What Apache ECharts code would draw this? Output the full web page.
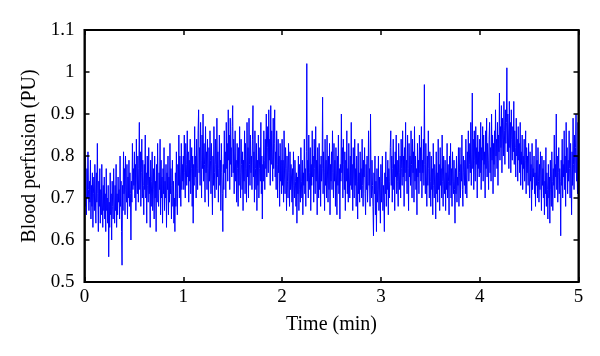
<!DOCTYPE html>
<html>
<head>
<meta charset="utf-8">
<script src="https://cdn.jsdelivr.net/npm/echarts@6/dist/echarts.min.js"></script>
<style>
html,body{margin:0;padding:0;background:#fff}
#wrap{position:relative;width:600px;height:356px}
#c,#f{position:absolute;left:0;top:0;width:600px;height:356px}
#f{pointer-events:none}
</style>
</head>
<body>
<div id="wrap"><div id="c"></div><div id="f"></div></div>
<script>
// Sample step (min) and perfusion values, one array per half minute
var step = 0.005;
var segA = [0.75,0.68,0.80,0.71,0.66,0.77,0.70,0.81,0.72,0.67,
0.74,0.69,0.79,0.65,0.73,0.68,0.76,0.63,0.71,0.75,
0.67,0.78,0.70,0.64,0.76,0.69,0.83,0.71,0.62,0.74,
0.68,0.77,0.64,0.72,0.66,0.78,0.70,0.63,0.73,0.67,
0.75,0.65,0.71,0.62,0.77,0.67,0.70,0.64,0.73,0.56,
0.69,0.63,0.76,0.66,0.71,0.60,0.74,0.68,0.65,0.77,
0.70,0.64,0.73,0.67,0.78,0.63,0.71,0.66,0.75,0.69,
0.72,0.65,0.80,0.68,0.74,0.62,0.54,0.73,0.67,0.81,
0.71,0.77,0.66,0.80,0.72,0.69,0.78,0.65,0.75,0.70,
0.79,0.68,0.76,0.71,0.60,0.74,0.69,0.83,0.72,0.77];
var segB = [0.73,0.81,0.70,0.78,0.67,0.84,0.75,0.71,0.80,0.69,
0.77,0.88,0.72,0.81,0.68,0.76,0.84,0.70,0.79,0.73,
0.66,0.78,0.72,0.85,0.70,0.76,0.64,0.80,0.73,0.69,
0.82,0.71,0.75,0.63,0.79,0.68,0.74,0.81,0.67,0.72,
0.77,0.65,0.80,0.70,0.74,0.62,0.78,0.69,0.83,0.71,
0.68,0.76,0.72,0.84,0.66,0.79,0.70,0.75,0.64,0.77,
0.71,0.82,0.67,0.74,0.70,0.78,0.63,0.76,0.72,0.80,
0.66,0.75,0.69,0.83,0.71,0.77,0.65,0.73,0.79,0.68,
0.74,0.64,0.70,0.62,0.76,0.68,0.81,0.71,0.66,0.78,
0.73,0.85,0.70,0.80,0.75,0.68,0.83,0.72,0.78,0.74];
var segC = [0.80,0.72,0.85,0.76,0.70,0.83,0.78,0.73,0.86,0.75,
0.81,0.69,0.79,0.74,0.84,0.71,0.77,0.82,0.68,0.80,
0.64,0.78,0.73,0.87,0.75,0.80,0.70,0.84,0.77,0.72,
0.86,0.91,0.76,0.82,0.73,0.88,0.79,0.70,0.85,0.77,
0.90,0.74,0.83,0.78,0.69,0.87,0.76,0.81,0.72,0.84,
0.77,0.68,0.82,0.74,0.86,0.79,0.71,0.83,0.75,0.66,
0.80,0.73,0.87,0.76,0.70,0.84,0.78,0.72,0.89,0.75,
0.81,0.69,0.77,0.85,0.73,0.79,0.67,0.83,0.76,0.71,
0.62,0.78,0.72,0.86,0.76,0.81,0.70,0.88,0.77,0.83,
0.74,0.91,0.79,0.85,0.72,0.89,0.78,0.82,0.75,0.87];
var segD = [0.92,0.76,0.84,0.71,0.80,0.86,0.74,0.79,0.69,0.83,
0.77,0.68,0.82,0.73,0.87,0.76,0.70,0.84,0.78,0.72,
0.81,0.67,0.79,0.74,0.86,0.71,0.83,0.77,0.69,0.88,
0.75,0.82,0.70,0.89,0.78,0.73,0.85,0.76,0.80,0.72,
0.84,0.92,0.75,0.81,0.69,0.86,0.77,0.72,0.83,0.67,
0.79,0.73,0.85,0.70,0.77,0.82,0.74,0.88,0.71,0.80,
0.65,0.78,0.74,0.86,0.79,0.72,0.84,0.77,0.90,0.75,
0.82,0.87,0.76,0.91,0.79,0.84,0.73,0.92,0.78,0.86,
0.80,0.74,0.89,0.77,0.83,0.91,0.75,0.81,0.72,0.86,
0.78,0.70,0.84,0.76,0.80,0.68,0.83,0.74,0.79,0.71];
var segE = [0.84,0.73,0.79,0.69,0.86,0.75,0.71,0.82,0.77,0.67,
0.80,0.74,0.70,0.83,0.76,0.68,0.81,0.72,0.78,0.75,
0.69,0.77,0.66,0.81,0.73,0.70,0.79,0.74,0.68,0.76,
0.64,0.75,0.71,0.80,0.67,0.78,0.72,0.69,0.82,0.74,
0.70,0.79,0.66,0.76,0.73,0.84,0.71,0.77,0.68,0.81,
1.02,0.74,0.79,0.70,0.85,0.76,0.72,0.82,0.67,0.78,
0.73,0.86,0.75,0.80,0.69,0.84,0.77,0.71,0.87,0.74,
0.79,0.66,0.82,0.75,0.70,0.83,0.72,0.78,0.68,0.80,
0.74,0.77,0.94,0.71,0.81,0.76,0.67,0.84,0.73,0.79,
0.70,0.85,0.75,0.69,0.80,0.72,0.83,0.66,0.78,0.74];
var segF = [0.81,0.72,0.86,0.76,0.70,0.83,0.74,0.79,0.68,0.82,
0.75,0.66,0.80,0.73,0.85,0.71,0.77,0.65,0.78,0.74,
0.90,0.76,0.82,0.70,0.84,0.78,0.72,0.81,0.67,0.79,
0.74,0.86,0.71,0.77,0.69,0.83,0.75,0.70,0.80,0.73,
0.88,0.72,0.78,0.67,0.82,0.75,0.70,0.84,0.73,0.77,
0.68,0.80,0.74,0.65,0.83,0.71,0.76,0.69,0.81,0.72,
0.77,0.70,0.84,0.73,0.68,0.79,0.75,0.82,0.71,0.66,
0.78,0.72,0.80,0.69,0.74,0.86,0.73,0.77,0.68,0.90,
0.75,0.70,0.79,0.73,0.68,0.61,0.76,0.71,0.80,0.66,
0.74,0.62,0.77,0.69,0.72,0.80,0.67,0.75,0.70,0.64];
var segG = [0.78,0.69,0.74,0.80,0.67,0.73,0.70,0.62,0.76,0.71,
0.81,0.68,0.75,0.72,0.79,0.66,0.77,0.70,0.74,0.82,
0.86,0.73,0.80,0.69,0.77,0.84,0.72,0.78,0.67,0.81,
0.75,0.85,0.71,0.79,0.74,0.68,0.83,0.76,0.72,0.80,
0.70,0.84,0.77,0.73,0.86,0.75,0.80,0.68,0.82,0.76,
0.88,0.74,0.79,0.71,0.85,0.77,0.67,0.83,0.75,0.80,
0.73,0.86,0.78,0.70,0.84,0.76,0.81,0.69,0.87,0.74,
0.80,0.72,0.77,0.66,0.83,0.75,0.79,0.71,0.85,0.76,
0.82,0.74,0.87,0.70,0.79,0.76,0.84,0.73,0.97,0.78,
0.71,0.83,0.75,0.68,0.80,0.73,0.86,0.77,0.70,0.81];
var segH = [0.74,0.68,0.80,0.72,0.77,0.66,0.83,0.73,0.70,0.78,
0.75,0.65,0.81,0.71,0.76,0.69,0.84,0.72,0.78,0.67,
0.82,0.73,0.77,0.70,0.85,0.74,0.68,0.80,0.75,0.71,
0.79,0.67,0.76,0.72,0.83,0.70,0.78,0.74,0.66,0.80,
0.73,0.83,0.70,0.77,0.68,0.81,0.74,0.71,0.79,0.72,
0.64,0.77,0.71,0.80,0.69,0.75,0.73,0.82,0.68,0.76,
0.82,0.70,0.78,0.74,0.85,0.72,0.68,0.80,0.76,0.73,
0.79,0.71,0.84,0.75,0.70,0.81,0.77,0.86,0.74,0.78,
0.83,0.76,0.88,0.73,0.80,0.95,0.77,0.84,0.72,0.86,
0.79,0.74,0.87,0.78,0.82,0.70,0.85,0.77,0.81,0.75];
var segI = [0.84,0.76,0.88,0.72,0.82,0.79,0.87,0.74,0.85,0.78,
0.81,0.70,0.86,0.77,0.89,0.75,0.83,0.79,0.72,0.84,
0.88,0.76,0.82,0.74,0.90,0.79,0.85,0.71,0.83,0.78,
0.86,0.75,0.91,0.80,0.84,0.77,0.88,0.73,0.85,0.81,
0.95,0.79,0.87,0.82,0.92,0.76,0.89,0.84,0.80,0.93,
0.86,0.78,0.91,0.83,0.88,1.01,0.81,0.90,0.85,0.77,
0.93,0.82,0.88,0.76,0.91,0.84,0.79,0.87,0.81,0.93,
0.78,0.86,0.82,0.75,0.89,0.80,0.84,0.74,0.87,0.79,
0.83,0.76,0.88,0.73,0.81,0.78,0.85,0.72,0.80,0.77,
0.84,0.74,0.79,0.86,0.71,0.82,0.76,0.80,0.73,0.83];
var segJ = [0.76,0.70,0.81,0.74,0.78,0.67,0.83,0.72,0.77,0.75,
0.80,0.71,0.76,0.68,0.84,0.73,0.79,0.70,0.82,0.74,
0.69,0.78,0.72,0.81,0.75,0.67,0.80,0.73,0.77,0.70,
0.79,0.66,0.74,0.71,0.82,0.68,0.76,0.72,0.65,0.78,
0.70,0.75,0.64,0.79,0.72,0.68,0.81,0.74,0.67,0.77,
0.73,0.85,0.70,0.78,0.75,0.90,0.72,0.80,0.69,0.76,
0.82,0.71,0.77,0.74,0.61,0.79,0.73,0.84,0.70,0.78,
0.75,0.86,0.72,0.80,0.68,0.88,0.76,0.82,0.71,0.79,
0.74,0.86,0.77,0.70,0.83,0.75,0.66,0.81,0.73,0.89,
0.78,0.72,0.85,0.76,0.82,0.90,0.74,0.80,0.71,0.88,
0.78];
var xTicks = [0,1,2,3,4,5];
var yTicks = [0.5,0.6,0.7,0.8,0.9,1,1.1];

var values = [].concat(segA, segB, segC, segD, segE, segF, segG, segH, segI, segJ);
var data = values.map(function(v, i){ return [Math.round(i*step*10000)/10000, v]; });

var font = 'Liberation Serif, Times New Roman, serif';
var xMin = xTicks[0], xMax = xTicks[xTicks.length-1];
var yMin = yTicks[0], yMax = yTicks[yTicks.length-1];
var gridBox = {left:84.5, right:21.5, top:30, bottom:74};

// Main chart: labels, axis titles and the perfusion trace
try {
  var chart = echarts.init(document.getElementById('c'));
  chart.setOption({
    animation:false,
    grid:[{left:gridBox.left, right:gridBox.right, top:gridBox.top, bottom:gridBox.bottom}],
    xAxis:[{
      type:'value', min:xMin, max:xMax, interval:1,
      name:'Time (min)', nameLocation:'middle', nameGap:33,
      nameTextStyle:{fontFamily:font, fontSize:20, color:'#000'},
      axisLine:{show:true, onZero:false, lineStyle:{color:'#000', width:1}},
      axisTick:{show:false}, splitLine:{show:false},
      axisLabel:{fontFamily:font, fontSize:19, color:'#000', margin:6}
    }],
    yAxis:[{
      type:'value', min:yMin, max:yMax, interval:0.1,
      name:'Blood perfusion (PU)', nameLocation:'middle', nameGap:35, nameRotate:90,
      nameTextStyle:{fontFamily:font, fontSize:20, color:'#000'},
      axisLine:{show:true, onZero:false, lineStyle:{color:'#000', width:1}},
      axisTick:{show:false}, splitLine:{show:false},
      axisLabel:{fontFamily:font, fontSize:19, color:'#000', margin:10,
        formatter:function(v){ return String(Math.round(v*10)/10); }}
    }],
    series:[{
      type:'line', data:data, xAxisIndex:0, yAxisIndex:0,
      showSymbol:false, symbol:'none', smooth:false,
      lineStyle:{color:'#0000ff', width:1}
    }]
  });
} catch (e) {}

// Overlay chart: closed box with inward ticks on all four sides (slightly heavier strokes)
try {
  var frame = echarts.init(document.getElementById('f'));
  function fTick(){ return {show:true, inside:true, length:5, lineStyle:{color:'#000', width:1.5}}; }
  function fLine(){ return {show:true, onZero:false, lineStyle:{color:'#000', width:1.5}}; }
  frame.setOption({
    animation:false,
    grid:[{left:gridBox.left, right:gridBox.right, top:gridBox.top, bottom:gridBox.bottom,
           show:true, borderColor:'#000', borderWidth:2}],
    xAxis:[
      {type:'value', min:xMin, max:xMax, interval:1, axisLine:fLine(), axisTick:fTick(), axisLabel:{show:false}, splitLine:{show:false}},
      {type:'value', position:'top', min:xMin, max:xMax, interval:1, axisLine:fLine(), axisTick:fTick(), axisLabel:{show:false}, splitLine:{show:false}}
    ],
    yAxis:[
      {type:'value', min:yMin, max:yMax, interval:0.1, axisLine:fLine(), axisTick:fTick(), axisLabel:{show:false}, splitLine:{show:false}},
      {type:'value', position:'right', min:yMin, max:yMax, interval:0.1, axisLine:fLine(), axisTick:fTick(), axisLabel:{show:false}, splitLine:{show:false}}
    ],
    series:[]
  });
} catch (e) {}
</script>
</body>
</html>
